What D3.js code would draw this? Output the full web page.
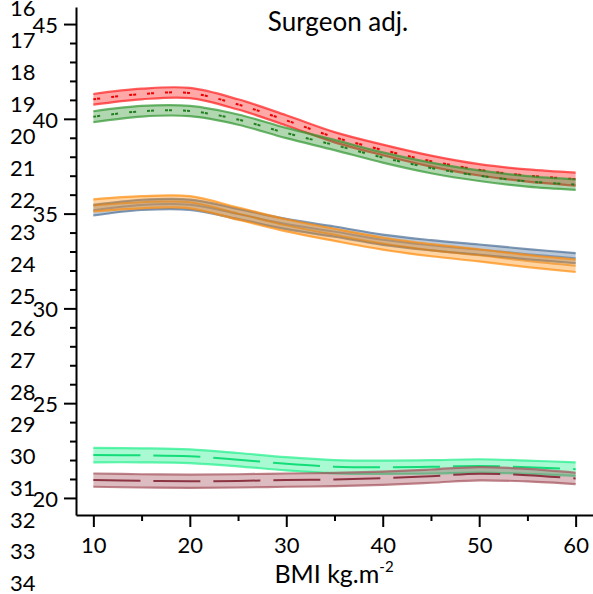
<!DOCTYPE html>
<html>
<head>
<meta charset="utf-8">
<script src="https://cdn.jsdelivr.net/npm/d3@7"></script>
<style>
  html, body { margin: 0; padding: 0; background: #fff; }
  svg { display: block; font-family: Lato, "Open Sans", sans-serif; }
</style>
</head>
<body>
<svg id="chart" width="593" height="594"></svg>
<script>
// BMI grid at which each fitted curve is sampled
const bmi = [10, 15, 20, 25, 30, 35, 40, 45, 50, 55, 60];

// Fitted means and confidence half-widths for each group
const redMean    = [41.03, 41.31, 41.36, 40.76, 39.92, 39.03, 38.36, 37.77, 37.31, 37.01, 36.82];
const redHalf    = [0.28, 0.28, 0.27, 0.27, 0.27, 0.27, 0.28, 0.29, 0.30, 0.32, 0.34];
const greenMean  = [40.11, 40.40, 40.41, 39.96, 39.25, 38.62, 37.96, 37.41, 37.00, 36.70, 36.53];
const greenHalf  = [0.29, 0.28, 0.27, 0.27, 0.27, 0.27, 0.27, 0.28, 0.28, 0.28, 0.28];
const blueMean   = [35.18, 35.46, 35.47, 34.98, 34.45, 34.05, 33.62, 33.33, 33.10, 32.86, 32.65];
const blueHalf   = [0.28, 0.27, 0.27, 0.27, 0.27, 0.27, 0.27, 0.27, 0.27, 0.27, 0.27];
const orangeMean = [35.43, 35.60, 35.60, 35.00, 34.38, 33.88, 33.42, 33.07, 32.80, 32.50, 32.25];
const orangeHalf = [0.32, 0.32, 0.32, 0.32, 0.32, 0.32, 0.32, 0.32, 0.32, 0.32, 0.33];
const springMean = [22.26, 22.25, 22.20, 22.02, 21.80, 21.65, 21.62, 21.64, 21.69, 21.62, 21.52];
const springHalf = [0.38, 0.37, 0.36, 0.35, 0.35, 0.35, 0.35, 0.35, 0.35, 0.35, 0.36];
const brownMean  = [20.94, 20.90, 20.88, 20.90, 20.94, 20.97, 21.04, 21.15, 21.28, 21.20, 21.03];
const brownHalf  = [0.35, 0.35, 0.35, 0.35, 0.35, 0.35, 0.35, 0.35, 0.35, 0.33, 0.30];

// Axis ticks
const xTicks = [10, 20, 30, 40, 50, 60];
const xMinorTicks = [15, 25, 35, 45, 55];
const yTicks = [20, 25, 30, 35, 40, 45];
const yMinorTicks = d3.range(20, 46);
const sideLabels = d3.range(16, 35);

const title = "Surgeon adj.";
const xTitle = "BMI kg.m";
const xTitleSup = "-2";

const series = [
  { mean: redMean,    half: redHalf,    color: "#ff1a1a", line: "#ee0000", dash: "3,1,3,11" },
  { mean: greenMean,  half: greenHalf,  color: "#2f952f", line: "#1f7f1f", dash: "3,1,3,11" },
  { mean: blueMean,   half: blueHalf,   color: "#4a6e96", line: "#4a6e96", dash: null },
  { mean: orangeMean, half: orangeHalf, color: "#ff8c0a", line: "#e87d00", dash: null },
  { mean: springMean, half: springHalf, color: "#1ef08a", line: "#12dd78", dash: "47,13" },
  { mean: brownMean,  half: brownHalf,  color: "#a4505a", line: "#8c3442", dash: "47,13" }
];

const svg = d3.select("#chart");

const x = d3.scaleLinear().domain([8.2, 61.8]).range([76, 593]);
const y = d3.scaleLinear().domain([19.1, 45.9]).range([515, 7]);
const ySide = d3.scaleLinear().domain([16, 34]).range([8.5, 583.5]);

// Bands, bound lines and mean lines
const curve = d3.curveCatmullRom.alpha(0.5);
const plot = svg.append("g");
series.forEach(s => {
  const pts = bmi.map((b, i) => ({ b, m: s.mean[i], lo: s.mean[i] - s.half[i], hi: s.mean[i] + s.half[i] }));
  plot.append("path")
    .datum(pts)
    .attr("fill", s.color)
    .attr("fill-opacity", 0.38)
    .attr("d", d3.area().curve(curve).x(d => x(d.b)).y0(d => y(d.lo)).y1(d => y(d.hi)));
  ["lo", "hi"].forEach(k => {
    plot.append("path")
      .datum(pts)
      .attr("fill", "none")
      .attr("stroke", s.color)
      .attr("stroke-opacity", 0.7)
      .attr("stroke-width", 2.2)
      .attr("d", d3.line().curve(curve).x(d => x(d.b)).y(d => y(d[k])));
  });
  plot.append("path")
    .datum(pts)
    .attr("fill", "none")
    .attr("stroke", s.line)
    .attr("stroke-width", 2)
    .attr("stroke-opacity", s.dash ? 1 : 0.55)
    .attr("stroke-dasharray", s.dash)
    .attr("d", d3.line().curve(curve).x(d => x(d.b)).y(d => y(d.m)));
});

// Y axis
const yAxis = svg.append("g").attr("transform", "translate(76,0)")
  .call(d3.axisLeft(y).tickValues(yTicks).tickSize(12).tickPadding(6).tickSizeOuter(0));
svg.append("g").attr("transform", "translate(76,0)")
  .call(d3.axisLeft(y).tickValues(yMinorTicks.filter(v => !yTicks.includes(v))).tickSize(6).tickFormat("").tickSizeOuter(0))
  .select(".domain").remove();

// X axis
const xAxis = svg.append("g").attr("transform", "translate(0,515)")
  .call(d3.axisBottom(x).tickValues(xTicks).tickSize(12).tickPadding(10).tickSizeOuter(0));
svg.append("g").attr("transform", "translate(0,515)")
  .call(d3.axisBottom(x).tickValues(xMinorTicks).tickSize(6).tickFormat("").tickSizeOuter(0))
  .select(".domain").remove();

svg.selectAll(".domain, .tick line").attr("stroke", "#000").attr("stroke-width", 2);
svg.selectAll(".tick text")
  .attr("font-family", "Lato, 'Open Sans', sans-serif")
  .attr("font-size", 22)
  .attr("fill", "#000");
yAxis.selectAll(".tick text").attr("dy", "0.38em");

// Secondary run of labels along the left edge
svg.append("g").selectAll("text")
  .data(sideLabels)
  .join("text")
  .attr("x", 10)
  .attr("y", d => ySide(d))
  .attr("dy", "0.36em")
  .attr("font-size", 22)
  .attr("fill", "#000")
  .text(d => d);

// Titles
svg.append("text")
  .attr("x", 338).attr("y", 31)
  .attr("text-anchor", "middle")
  .attr("font-size", 26)
  .attr("fill", "#000")
  .text(title);

const xt = svg.append("text")
  .attr("x", 334).attr("y", 583)
  .attr("text-anchor", "middle")
  .attr("font-size", 25)
  .attr("fill", "#000");
xt.append("tspan").text(xTitle);
xt.append("tspan").attr("dy", -11).attr("font-size", 15).text(xTitleSup);
</script>
</body>
</html>
